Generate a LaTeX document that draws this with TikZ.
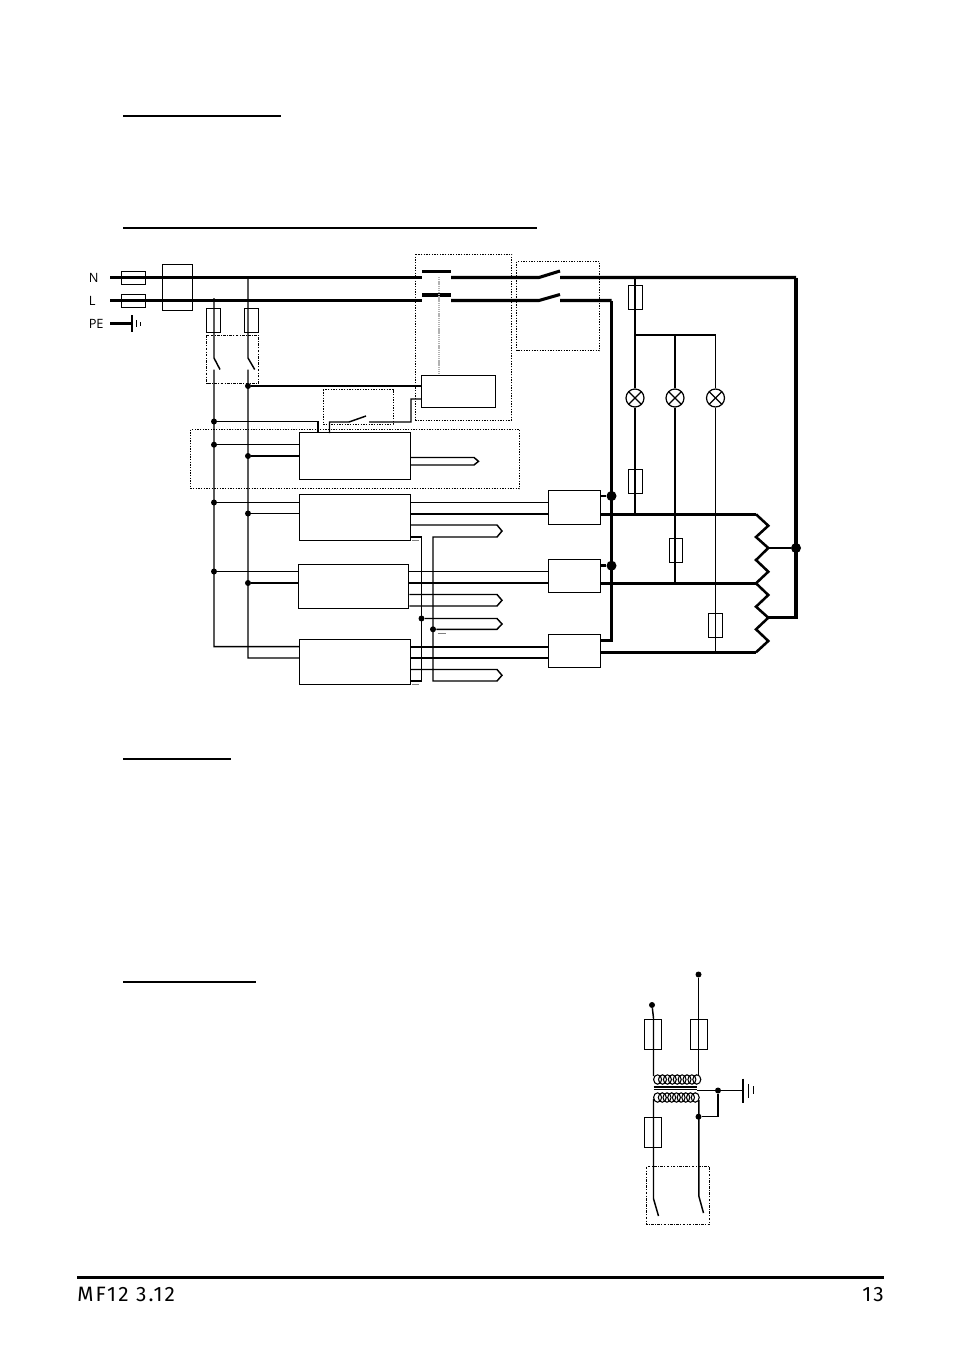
\documentclass[tikz,border=0pt]{standalone}
\usepackage{fontspec}
\setmainfont{Open Sans}
\newfontfamily\footfont[LetterSpace=10]{Fira Sans}
\usepackage{tikz}
\usetikzlibrary{calc}

\tikzset{
    wire/.style={line width=1.1pt},
    bus/.style={line width=2.3pt},
    busmid/.style={line width=1.9pt},
    box/.style={draw,line width=0.75pt,fill=none,minimum width=0pt,minimum height=0pt,inner sep=0pt},
    dotbox/.style={draw,dash pattern=on 1pt off 1pt,line width=0.75pt},
    dashbox/.style={draw,dash pattern=on 2pt off 1pt on 0.7pt off 1pt,line width=0.75pt},
    dot/.style={circle,fill=black,inner sep=0pt,minimum size=4.5pt},
    bigdot/.style={circle,fill=black,inner sep=0pt,minimum size=7.5pt},
    rule/.style={line width=1.5pt},
    lamp/.style={circle,draw,line width=0.9pt,inner sep=0pt,minimum size=13.5pt,path picture={
        \draw (path picture bounding box.north west) -- (path picture bounding box.south east);
        \draw (path picture bounding box.south west) -- (path picture bounding box.north east);}},
    lbl/.style={inner sep=0pt,font=\fontsize{9.6pt}{11pt}\selectfont},
    foot/.style={inner sep=0pt,font=\footfont\fontsize{15.6pt}{18pt}\selectfont}
}

% box from corner to corner, always with a name
\newcommand{\boxat}[5]{\node[box,#5,minimum width=#3*0.75pt,minimum height=#4*0.75pt] (#1) at (#2) {};}

\begin{document}
\begin{tikzpicture}[x=0.75pt,y=-0.75pt]
    \useasboundingbox (0,0) rectangle (954,1349);

    % Headings: only their underlines
    \draw[rule] (123,115.5) -- (281,115.5);
    \draw[rule] (123,228) -- (537,228);
    \draw[rule] (123,759) -- (231,759);
    \draw[rule] (123,982) -- (256,982);

    % Footer
    \draw[line width=1.6pt] (77,1277.5) -- (884,1277.5);
    \node[foot,anchor=base west] (pagename) at (77,1301) {MF12 3.12};
    \node[foot,anchor=base east] (pageno) at (884,1301) {13};

    % Mains labels
    \node[lbl,anchor=base west] (labN) at (88.5,282) {N};
    \node[lbl,anchor=base west] (labL) at (88.5,305) {L};
    \node[lbl,anchor=base west] (labPE) at (88.5,328) {PE};

    % Fuses, filter, relay boxes
    \boxat{fuseN}{133,277.5}{24}{13}{}
    \boxat{fuseL}{133,300.5}{24}{13}{}
    \boxat{filter}{177,287.5}{30}{46.5}{}
    \boxat{fuseA}{213.5,320}{14}{24}{}
    \boxat{fuseB}{251,320}{14}{24}{}
    \boxat{fuseC}{635,297}{14}{24}{}
    \boxat{fuseD}{635,481}{14}{24}{}
    \boxat{fuseE}{676,550}{13.5}{24}{}
    \boxat{fuseF}{715.5,625.5}{13.5}{24}{}
    \boxat{coil}{458.5,391.7}{74}{32.5}{}
    \boxat{ctrlA}{355,456.2}{111}{46.5}{}
    \boxat{ctrlB}{355,517.7}{110.5}{45.5}{}
    \boxat{ctrlC}{353.7,586.7}{110.5}{44.5}{}
    \boxat{ctrlD}{355,662}{110.5}{45}{}
    \boxat{ssrA}{574.5,507}{52}{34}{}
    \boxat{ssrB}{574.5,576.2}{52}{33.5}{}
    \boxat{ssrC}{574.5,651.2}{52}{33.5}{}

    % Dotted outlines
    \draw[dotbox] (415.5,254) rectangle (511.5,420);
    \draw[dotbox] (516.5,261.5) rectangle (599.5,350.5);
    \draw[dotbox] (323,389.5) rectangle (393,424);
    \draw[dotbox] (190.5,429.5) rectangle (519.5,488.5);
    \draw[dashbox] (206.5,335) rectangle (258.5,383.5);

    % Mains buses
    \coordinate (startN) at (110,277.5);
    \coordinate (startL) at (110,300.5);
    \coordinate (endN) at (796,277.5);
    \draw[bus] (startN) -- (422,277.5) (422,271.7) -- (451,271.7);
    \draw[bus] (startL) -- (422,300.5) (422,295) -- (451,295);
    \draw[bus] (451,277.5) -- (539,277.5) -- (560,271) (560,277.5) -- (endN);
    \draw[bus] (451,300.5) -- (539,300.5) -- (560,294.5) (560,300.5) -- (611.5,300.5);
    \draw[gray!60,dash pattern=on 1pt off 0.6pt,line width=1.2pt] (439,277) -- (coil.north -| 439,0);

    % Earth
    \draw[bus] (110,323.5) -- (132,323.5);
    \draw[line width=1.1pt] (132,315) -- (132,332);
    \draw[wire] (136.7,320) -- (136.7,327);
    \draw[wire] (140.3,322) -- (140.3,326);

    % Junctions of the supply
    \node[dot] (j1) at (248,386) {};
    \node[dot] (j2) at (214,421.5) {};
    \node[dot] (j3) at (214,444.7) {};
    \node[dot] (j4) at (248,456) {};
    \node[dot] (j5) at (214,502.5) {};
    \node[dot] (j6) at (248,513.5) {};
    \node[dot] (j7) at (214,571.5) {};
    \node[dot] (j8) at (248,583) {};
    \node[dot] (j9) at (421.5,618.5) {};
    \node[dot] (j10) at (433,629.3) {};

    % Supply rails with the switch
    \draw[wire] (214,298) -- (214,358) -- (220,369.5) (214,369.5) -- (214,646.7) -- (ctrlD.west |- 0,646.7);
    \draw[wire] (248,277.5) -- (248,358) -- (254.7,369.5) (248,369.5) -- (248,658) -- (ctrlD.west |- 0,658);
    \draw[wire] (j1) -- (coil.west |- j1);
    \draw[wire] (j2) -- (318,421.5) -- (318,433);
    \draw[wire] (329.5,433) -- (329.5,422) -- (349,422) -- (366,416) (369,422) -- (411,422) -- (411,399) -- (coil.west |- 0,399);
    \foreach \a/\b in {j3/ctrlA,j4/ctrlA,j5/ctrlB,j6/ctrlB,j7/ctrlC,j8/ctrlC}{%
        \draw[wire] (\a) -- (\b.west |- \a);
    }

    % Sensor on the first controller
    \draw[wire] (ctrlA.east |- 0,457.5) -- (474,457.5) -- (478.5,461.3) -- (474,465) -- (ctrlA.east |- 0,465);

    % Controller outputs to the relays
    \foreach \c/\s/\u/\v in {ctrlB/ssrA/502.5/514,ctrlC/ssrB/571.5/583,ctrlD/ssrC/647/658}{%
        \draw[wire] (\c.east |- 0,\u) -- (\s.west |- 0,\u);
        \draw[wire] (\c.east |- 0,\v) -- (\s.west |- 0,\v);
    }

    % Sensors of the others
    \draw[wire] (ctrlB.east |- 0,525) -- (497,525) -- (502,531) -- (497,537) -- (433,537) -- (433,681) -- (497,681) -- (502,675.3) -- (497,669.5) -- (ctrlD.east |- 0,669.5);
    \draw[wire] (ctrlB.east |- 0,537) -- (421.5,537) -- (421.5,681) -- (ctrlD.east |- 0,681);
    \draw[wire] (ctrlC.east |- 0,594.5) -- (497,594.5) -- (502,600.3) -- (497,606) -- (ctrlC.east |- 0,606);
    \draw[wire] (j9) -- (497,618.5) -- (502,624) -- (497,629.3) -- (j10);
    \draw[gray,line width=0.4pt] (412,540) -- (419,540) (438,633) -- (446,633) (412,684) -- (419,684);

    % Lamps and their line
    \node[lamp] (lampA) at (635,398) {};
    \node[lamp] (lampB) at (675,398) {};
    \node[lamp] (lampC) at (715.5,398) {};
    \draw[wire] (635,277.5) -- (lampA) -- (635,516);
    \draw[wire] (635,335) -- (715.5,335) -- (lampC) -- (715.5,653);
    \draw[wire] (675,335) -- (lampB) -- (675,585);

    % Heater, star point and the return
    \coordinate (zzA) at (756,514.3);
    \coordinate (zzB) at (756,583.3);
    \coordinate (zzC) at (756,652.3);
    \coordinate (tapA) at (768.3,548);
    \coordinate (tapB) at (768.3,617.7);
    \draw[busmid,line join=miter] (zzA) -- (768.3,525.7) -- (756,537) -- (tapA) -- (756,560) -- (768.3,571.7) -- (zzB) -- (768.3,595) -- (756,606.7) -- (tapB) -- (756,629.3) -- (768.3,641) -- (zzC);
    \node[bigdot] (star) at (796,548) {};
    \node[bigdot] (busA) at (611.5,496) {};
    \node[bigdot] (busB) at (611.5,565.7) {};
    \draw[busmid] (tapA) -- (star);
    \draw[bus] (endN) -- (796,617.7) -- (tapB);
    \draw[busmid] (611.5,300.5) -- (611.5,640.5) -- (ssrC.east |- 0,640.5);
    \draw[busmid] (ssrA.east |- busA) -- (busA);
    \draw[busmid] (ssrB.east |- busB) -- (busB);
    \draw[busmid] (ssrA.east |- zzA) -- (zzA);
    \draw[busmid] (ssrB.east |- zzB) -- (zzB);
    \draw[busmid] (ssrC.east |- zzC) -- (zzC);

    % Transformer
    \node[dot] (trA) at (698.5,974.5) {};
    \node[dot] (trB) at (652,1005) {};
    \node[dot] (trC) at (718,1090.5) {};
    \node[dot] (trD) at (698.5,1116.7) {};
    \boxat{fuseG}{653,1034.5}{17}{30}{}
    \boxat{fuseH}{699,1034.5}{17}{30}{}
    \boxat{fuseI}{653,1132.7}{17}{29.5}{}
    \draw[dashbox] (646.5,1166.5) rectangle (709.5,1224.5);
    \foreach \n in {0,1,...,8}{%
        \draw[line width=0.8pt] ({657.6+\n*4.9},1079.5) ellipse (4 and 4.7);
        \draw[line width=0.8pt] ({657.6+\n*4.7},1097.5) ellipse (4 and 4.7);
    }
    \draw[wire] (trA) -- (698.5,1076);
    \draw[wire] (trB) -- (653.5,1018) -- (653.5,1076);
    \draw[wire] (653.5,1087) -- (697,1087) (653.5,1089.3) -- (697,1089.3);
    \draw[wire] (697,1090.5) -- (743,1090.5);
    \draw[wire] (trC) -- (718,1116.7) -- (trD);
    \draw[wire] (653.5,1099) -- (653.5,1198.7) -- (658.5,1216);
    \draw[wire] (698.8,1100) -- (698.8,1196) -- (703.5,1213);
    \draw[line width=1.2pt] (743,1078.5) -- (743,1102.5);
    \draw[wire] (748.3,1084) -- (748.3,1098);
    \draw[wire] (753.3,1086) -- (753.3,1094);
\end{tikzpicture}
\end{document}
